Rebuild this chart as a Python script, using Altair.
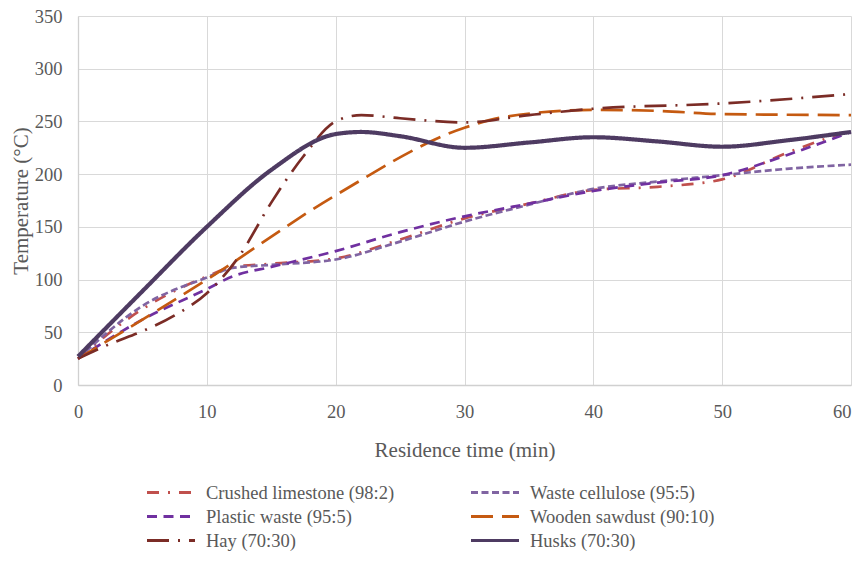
import altair as alt
import pandas as pd

series_names = [
    "Crushed limestone (98:2)",
    "Waste cellulose (95:5)",
    "Plastic waste (95:5)",
    "Wooden sawdust (90:10)",
    "Hay (70:30)",
    "Husks (70:30)",
]
series_colors = ["#C0504D", "#8064A2", "#7030A0", "#C55A11", "#7B2C26", "#4E3B62"]
series_dashes = [[12, 9, 2, 9], [7, 3.5], [10, 6.5], [22, 9], [22, 9, 2, 9], [1, 0]]

limestone_t = [0, 5, 10, 12, 15, 20, 25, 30, 35, 40, 45, 50, 55, 60]
limestone_v = [25, 72, 103, 112, 115, 120, 138, 158, 172, 185, 188, 195, 220, 242]

cellulose_t = [0, 5, 10, 12, 15, 20, 25, 30, 35, 40, 45, 50, 55, 60]
cellulose_v = [25, 75, 102, 111, 114, 119, 136, 155, 171, 186, 193, 199, 205, 209]

plastic_t = [0, 5, 10, 12, 15, 20, 25, 30, 35, 40, 45, 50, 55, 60]
plastic_v = [25, 62, 91, 103, 112, 127, 145, 160, 172, 184, 192, 199, 218, 240]

sawdust_t = [0, 5, 10, 20, 30, 33, 40, 45, 50, 60]
sawdust_v = [25, 62, 100, 180, 244, 254, 261, 260, 257, 256]

hay_t = [0, 2.5, 5, 7.5, 10, 12.5, 15, 17.5, 20, 22, 25, 30, 35, 40, 50, 60]
hay_v = [25, 39, 51, 66, 87, 122, 173, 217, 250, 256, 253, 249, 256, 262, 267, 276]

husks_t = [0, 5, 10, 15, 20, 22, 25, 30, 35, 40, 45, 50, 55, 60]
husks_v = [27, 89, 150, 204, 238, 240, 236, 225, 230, 235, 231, 226, 232, 240]

all_t = [limestone_t, cellulose_t, plastic_t, sawdust_t, hay_t, husks_t]
all_v = [limestone_v, cellulose_v, plastic_v, sawdust_v, hay_v, husks_v]

rows = []
for name, ts, vs in zip(series_names, all_t, all_v):
    for t, v in zip(ts, vs):
        rows.append({"series": name, "time": t, "temp": v})
df = pd.DataFrame(rows)

x_ticks = [0, 10, 20, 30, 40, 50, 60]
y_ticks = [0, 50, 100, 150, 200, 250, 300, 350]

FONT = "Liberation Serif, Times New Roman, Times, serif"
GREY = "#595959"

legend_opts = dict(
    title=None,
    orient="none",
    direction="horizontal",
    legendX=79.5,
    legendY=463,
    columns=2,
    columnPadding=70,
    rowPadding=1,
    symbolType="M-2,0H2",
    symbolSize=576,
    symbolStrokeWidth=3,
    labelOffset=21.5,
    labelLimit=400,
    padding=0,
)

chart = (
    alt.Chart(df)
    .mark_line(interpolate="monotone")
    .encode(
        x=alt.X(
            "time:Q",
            scale=alt.Scale(domain=[0, 60], nice=False),
            axis=alt.Axis(
                values=x_ticks,
                title="Residence time (min)",
                labelPadding=17,
                titlePadding=19,
                labelFlush=False,
                labelAlign={
                    "condition": {"test": "datum.value === 60", "value": "right"},
                    "value": "center",
                },
            ),
        ),
        y=alt.Y(
            "temp:Q",
            scale=alt.Scale(domain=[0, 350], nice=False),
            axis=alt.Axis(
                values=y_ticks,
                title="Temperature (°C)",
                labelPadding=16,
                titlePadding=3,
                labelFlush=False,
            ),
        ),
        color=alt.Color(
            "series:N",
            scale=alt.Scale(domain=series_names, range=series_colors),
            sort=series_names,
            legend=alt.Legend(**legend_opts),
        ),
        strokeDash=alt.StrokeDash(
            "series:N",
            scale=alt.Scale(domain=series_names, range=series_dashes),
            sort=series_names,
            legend=alt.Legend(**legend_opts),
        ),
        strokeWidth=alt.condition(
            alt.datum.series == "Husks (70:30)", alt.value(4.2), alt.value(2.7)
        ),
        order=alt.Order("time:Q"),
    )
    .properties(
        width=773,
        height=369,
        autosize=alt.AutoSizeParams(type="none"),
        padding={"left": 70, "top": 8, "right": 3, "bottom": 168},
    )
    .configure_view(stroke=None)
    .configure_axis(
        grid=True,
        gridColor="#D9D9D9",
        gridWidth=1,
        domainColor="#D0D0D0",
        domainWidth=1.3,
        ticks=False,
        labelFont=FONT,
        labelFontSize=18.5,
        labelColor=GREY,
        titleFont=FONT,
        titleFontSize=21,
        titleFontWeight="normal",
        titleColor=GREY,
    )
    .configure_legend(
        labelFont=FONT,
        labelFontSize=18.5,
        labelColor=GREY,
    )
)

chart.save("out.html", embed_options={"renderer": "svg", "actions": False})
